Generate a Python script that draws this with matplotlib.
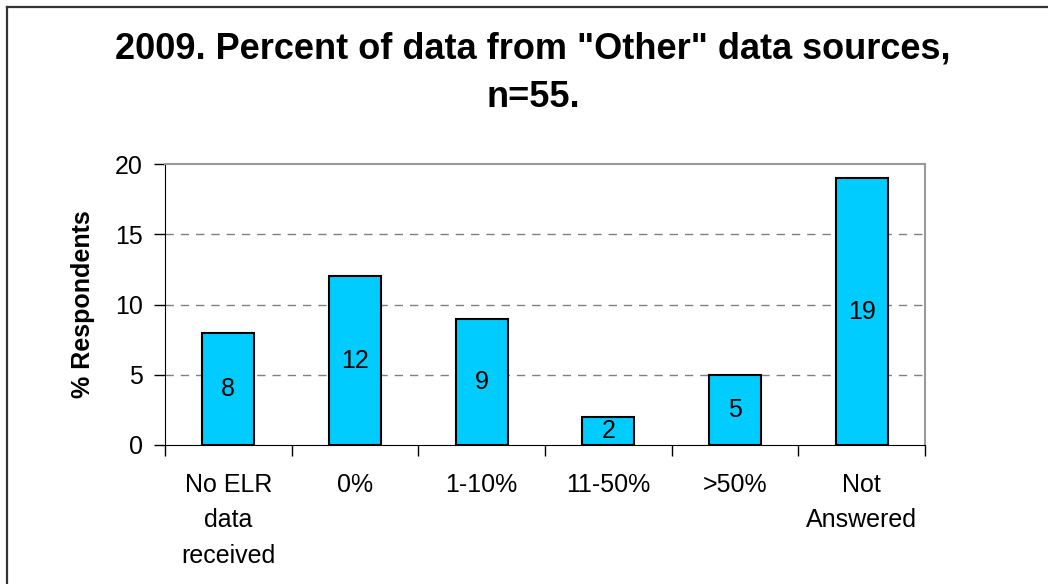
import matplotlib.pyplot as plt
from matplotlib.lines import Line2D

plt.rcParams['font.family'] = ['Liberation Sans', 'DejaVu Sans']

categories = ['No ELR\ndata\nreceived', '0%', '1-10%', '11-50%', '>50%', 'Not\nAnswered']
values = [8, 12, 9, 2, 5, 19]

fig = plt.figure(figsize=(10.48, 5.84), dpi=100)
ax = fig.add_axes([165 / 1048, 1 - 445 / 584, 760 / 1048, 281 / 584])

x = range(len(categories))
bars = ax.bar(x, values, width=0.41, color='#00CCFF', edgecolor='black', linewidth=1.5, zorder=3)
for b, v in zip(bars, values):
    ax.text(b.get_x() + b.get_width() / 2, v / 2, str(v), ha='center', va='center', fontsize=18, zorder=4)

ax.set_xlim(-0.5, len(categories) - 0.5)
ax.set_ylim(0, 20)
ax.set_yticks([0, 5, 10, 15, 20])
ax.set_xticks([i - 0.5 for i in range(len(categories) + 1)])
ax.set_xticklabels([])
ax.set_xticks(list(x), minor=True)
ax.set_xticklabels(categories, minor=True, fontsize=18, linespacing=1.6)
ax.tick_params(axis='x', which='minor', length=0, pad=20)
ax.tick_params(axis='x', which='major', direction='out', length=8, width=1, color='black')
ax.tick_params(axis='y', direction='out', length=8, width=1, labelsize=18, pad=8)

for yv in [5, 10, 15]:
    ax.axhline(yv, color='#808080', linestyle=(0, (6, 5)), linewidth=1, zorder=1)

ax.spines['top'].set_color('#999999')
ax.spines['right'].set_color('#999999')
ax.spines['top'].set_linewidth(1.5)
ax.spines['right'].set_linewidth(1.5)
ax.spines['left'].set_color('black')
ax.spines['bottom'].set_color('black')

ax.set_ylabel('% Respondents', fontsize=18, fontweight='bold', labelpad=14)

fig.text(533 / 1048, 1 - 73 / 584, '2009. Percent of data from "Other" data sources,\nn=55.',
         ha='center', va='center', fontsize=26, fontweight='bold', linespacing=1.5)

# outer frame (top and left edges)
fig.add_artist(Line2D([6.5 / 1048, 6.5 / 1048], [0, 1 - 6.5 / 584], transform=fig.transFigure, color='#333333', linewidth=1.6))
fig.add_artist(Line2D([6.5 / 1048, 1], [1 - 6.5 / 584, 1 - 6.5 / 584], transform=fig.transFigure, color='#333333', linewidth=1.6))

fig.savefig('out.png', dpi=100)
